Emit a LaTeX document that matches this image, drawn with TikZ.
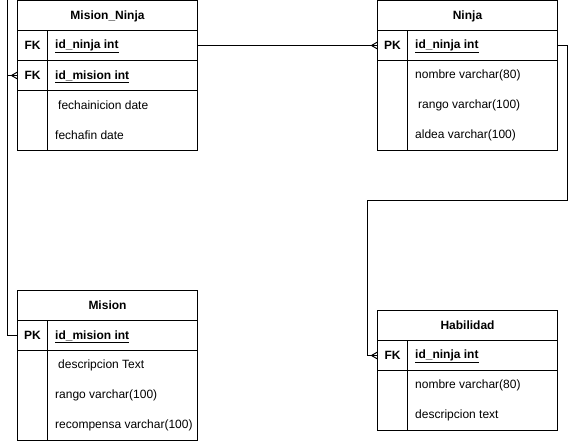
\documentclass[tikz,border=0pt]{standalone}
\usepackage{fontspec}
\setmainfont{Liberation Sans}
\begin{document}
\begin{tikzpicture}[x=1pt,y=-1pt,
  every node/.style={font=\fontsize{12}{14}\selectfont},
  cell/.style={draw, line width=1pt, inner sep=0pt, outer sep=0pt, anchor=north west, minimum height=30},
  keycell/.style={cell, minimum width=30, font=\fontsize{12}{14}\selectfont\bfseries, text depth=-1pt},
  ttl/.style={cell, minimum width=180, font=\fontsize{12}{14}\selectfont\bfseries, text depth=-1pt},
  row/.style={cell, minimum width=180},
  fld/.style={anchor=west, inner sep=0pt, yshift=-1pt},
  keyfld/.style={fld, font=\fontsize{12}{14}\selectfont\bfseries},
  link/.style={draw, line width=1pt},
  crow/.pic={\draw[line width=1pt] (-6,0) -- (0,-3.5) (-6,0) -- (0,3.5);}
]
\useasboundingbox (0,0) rectangle (576,442);

% ---------- Mision_Ninja ----------
\node[ttl] (mnT) at (17.5,0.5) {Mision\_Ninja};
\node[row] (mnR1) at (17.5,30.5) {};
\node[keycell] (mnK1) at (17.5,30.5) {FK};
\node[keyfld] (mnF1) at (55,45.5) {\underline{id\_ninja int}};
\node[row] (mnR2) at (17.5,60.5) {};
\node[keycell] (mnK2) at (17.5,60.5) {FK};
\node[keyfld] (mnF2) at (55,75.5) {\underline{id\_mision int}};
\node[row, minimum height=60] (mnB) at (17.5,90.5) {};
\node[keycell, minimum height=60] (mnKB) at (17.5,90.5) {};
\node[fld] (mnF3) at (58,104.5) {fechainicion date};
\node[fld] (mnF4) at (55,134.5) {fechafin date};

% ---------- Ninja ----------
\node[ttl] (njT) at (377.5,0.5) {Ninja};
\node[row] (njR1) at (377.5,30.5) {};
\node[keycell] (njK1) at (377.5,30.5) {PK};
\node[keyfld] (njF1) at (415,45.5) {\underline{id\_ninja int}};
\node[row, minimum height=90] (njB) at (377.5,60.5) {};
\node[keycell, minimum height=90] (njKB) at (377.5,60.5) {};
\node[fld] (njF2) at (415,74.5) {nombre varchar(80)};
\node[fld] (njF3) at (418,104.5) {rango varchar(100)};
\node[fld] (njF4) at (415,134.5) {aldea varchar(100)};

% ---------- Mision ----------
\node[ttl] (miT) at (17.5,290.5) {Mision};
\node[row] (miR1) at (17.5,320.5) {};
\node[keycell] (miK1) at (17.5,320.5) {PK};
\node[keyfld] (miF1) at (55,335.5) {\underline{id\_mision int}};
\node[row, minimum height=90] (miB) at (17.5,350.5) {};
\node[keycell, minimum height=90] (miKB) at (17.5,350.5) {};
\node[fld] (miF2) at (58,364.5) {descripcion Text};
\node[fld] (miF3) at (55,394.5) {rango varchar(100)};
\node[fld] (miF4) at (55,424.5) {recompensa varchar(100)};

% ---------- Habilidad ----------
\node[ttl] (haT) at (377.5,310.5) {Habilidad};
\node[row] (haR1) at (377.5,340.5) {};
\node[keycell] (haK1) at (377.5,340.5) {FK};
\node[keyfld] (haF1) at (415,355.5) {\underline{id\_ninja int}};
\node[row, minimum height=60] (haB) at (377.5,370.5) {};
\node[keycell, minimum height=60] (haKB) at (377.5,370.5) {};
\node[fld] (haF2) at (415,384.5) {nombre varchar(80)};
\node[fld] (haF3) at (415,414.5) {descripcion text};

% ---------- connectors ----------
\coordinate (cL) at (7.5,0);
\coordinate (cR) at (567.5,200.5);
\coordinate (cM) at (367.5,200.5);

\draw[link] (mnR1.east) -- (njR1.west);
\pic at (njR1.west) {crow};

\draw[link] (miR1.west) -| (cL) |- (mnR2.west);
\pic at (mnR2.west) {crow};

\draw[link] (njR1.east) -| (cR) -- (cM) |- (haR1.west);
\pic at (haR1.west) {crow};
\end{tikzpicture}
\end{document}
